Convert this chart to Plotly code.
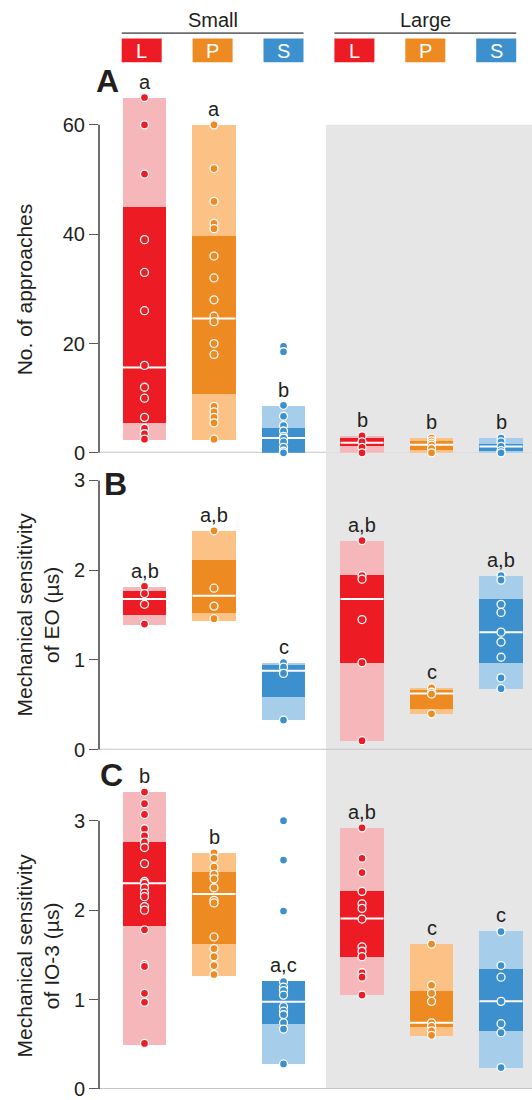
import plotly.graph_objects as go

# ---- categories -------------------------------------------------------------
size_groups = ["Small", "Large"]
species = ["L", "P", "S"]
dark_colors = ["#ED1C24", "#EE8A22", "#3D90CE"]
light_colors = ["#F6B7BA", "#FBC185", "#A6CDE9"]

# ---- panel A: number of approaches ------------------------------------------
approach_pts = [
    [65, 60, 51, 39, 33, 26, 16, 12, 10, 6.5, 4.5, 3.5, 2.5],
    [60, 52, 46, 42, 41, 36, 32, 28, 25, 24, 20, 18, 8.5, 7.5, 6.5, 5.5, 2.5],
    [19.5, 18.5, 8.7, 6.7, 5, 4, 3, 2.7, 2, 1, 0.3, 0],
    [3.1, 2, 1, 0],
    [2.7, 2.2, 1.8, 1.4, 0.8, 0],
    [2.7, 2.0, 1.2, 0.4, 0],
]
approach_lo = [2.4, 2.4, 0, 0, 0, 0]
approach_q1 = [5.4, 10.7, 0, 1.2, 0.6, 0.4]
approach_med = [15.6, 24.6, 2.7, 1.85, 1.5, 1.15]
approach_q3 = [45, 39.6, 4.5, 2.7, 2.2, 1.65]
approach_hi = [65, 60, 8.6, 3.1, 2.7, 2.7]
approach_sig = ["a", "a", "b", "b", "b", "b"]

# ---- panel B: mechanical sensitivity of EO (µs) -----------------------------
eo_pts = [
    [1.82, 1.74, 1.62, 1.40],
    [2.44, 1.80, 1.60, 1.46],
    [0.97, 0.92, 0.85, 0.33],
    [2.33, 1.94, 1.90, 1.45, 0.97, 0.10],
    [0.69, 0.64, 0.62, 0.40],
    [1.94, 1.89, 1.62, 1.53, 1.31, 1.20, 1.03, 0.80, 0.68],
]
eo_lo = [1.39, 1.44, 0.33, 0.10, 0.40, 0.675]
eo_q1 = [1.50, 1.52, 0.585, 0.967, 0.456, 0.967]
eo_med = [1.68, 1.715, 0.88, 1.68, 0.627, 1.31]
eo_q3 = [1.77, 2.12, 0.94, 1.944, 0.67, 1.686]
eo_hi = [1.816, 2.44, 0.97, 2.33, 0.686, 1.94]
eo_sig = ["a,b", "a,b", "c", "a,b", "c", "a,b"]

# ---- panel C: mechanical sensitivity of IO-3 (µs) ---------------------------
io_pts = [
    [3.32, 3.19, 3.07, 2.91, 2.83, 2.76, 2.70, 2.52, 2.32, 2.30, 2.25, 2.19,
     2.15, 2.04, 2.00, 1.78, 1.39, 1.37, 1.07, 0.97, 0.51],
    [2.64, 2.58, 2.48, 2.40, 2.35, 2.25, 2.11, 2.08, 1.70, 1.57, 1.48, 1.38, 1.28],
    [3.00, 2.56, 1.99, 1.20, 1.14, 1.10, 1.05, 0.92, 0.87, 0.83, 0.74, 0.67, 0.28],
    [2.92, 2.58, 2.42, 2.21, 2.07, 2.02, 1.90, 1.59, 1.54, 1.48, 1.30, 1.25, 1.05],
    [1.62, 1.16, 1.07, 0.98, 0.74, 0.70, 0.65, 0.60],
    [1.76, 1.38, 1.25, 0.98, 0.73, 0.63, 0.24],
]
io_lo = [0.50, 1.27, 0.28, 1.05, 0.60, 0.234]
io_q1 = [1.83, 1.625, 0.73, 1.476, 0.695, 0.65]
io_med = [2.30, 2.18, 0.975, 1.906, 0.74, 0.98]
io_q3 = [2.76, 2.435, 1.21, 2.22, 1.097, 1.35]
io_hi = [3.32, 2.64, 1.21, 2.92, 1.62, 1.766]
io_sig = ["b", "b", "a,c", "a,b", "c", "c"]

approach_ticks = [0, 20, 40, 60]
sens_ticks = [0, 1, 2, 3]

# ---- geometry -----------------------------------------------------------------
W, H = 532, 1100
ML, MR, MT, MB = 99, 0, 70, 8
PLOT_W = W - ML - MR
PLOT_H = H - MT - MB
GROUP_GAP = 3.13
BOX_W = 0.62
X_RANGE = [-0.6547, 5.5755]
SHADE_X0 = 2.612

TEXT = "#231F20"
FONT = "Liberation Sans, Arial, Helvetica, sans-serif"


def px_x(px):
    return (px - ML) / PLOT_W


def px_y(py):
    return (H - MB - py) / PLOT_H


xpos = [g * GROUP_GAP + i for g in range(len(size_groups)) for i in range(len(species))]
fill_dark = dark_colors * len(size_groups)
fill_light = light_colors * len(size_groups)

panels = [
    dict(axis="y", pts=approach_pts, lo=approach_lo, q1=approach_q1, med=approach_med,
         q3=approach_q3, hi=approach_hi, sig=approach_sig),
    dict(axis="y2", pts=eo_pts, lo=eo_lo, q1=eo_q1, med=eo_med,
         q3=eo_q3, hi=eo_hi, sig=eo_sig),
    dict(axis="y3", pts=io_pts, lo=io_lo, q1=io_q1, med=io_med,
         q3=io_q3, hi=io_hi, sig=io_sig),
]

fig = go.Figure()
annotations = []

for p in panels:
    ax = p["axis"]
    # outer (light) box
    fig.add_trace(go.Bar(
        x=xpos, y=[h - l for h, l in zip(p["hi"], p["lo"])], base=p["lo"],
        width=BOX_W, marker=dict(color=fill_light, line=dict(width=0)),
        xaxis="x", yaxis=ax, hoverinfo="skip", cliponaxis=False))
    # inner (dark) box
    fig.add_trace(go.Bar(
        x=xpos, y=[h - l for h, l in zip(p["q3"], p["q1"])], base=p["q1"],
        width=BOX_W, marker=dict(color=fill_dark, line=dict(width=0)),
        xaxis="x", yaxis=ax, hoverinfo="skip", cliponaxis=False))
    # median lines
    mx, my = [], []
    for x, m in zip(xpos, p["med"]):
        mx += [x - BOX_W / 2, x + BOX_W / 2, None]
        my += [m, m, None]
    fig.add_trace(go.Scatter(x=mx, y=my, mode="lines",
                             line=dict(color="white", width=2),
                             xaxis="x", yaxis=ax, hoverinfo="skip", cliponaxis=False))
    # individual observations
    for k, vals in enumerate(p["pts"]):
        fig.add_trace(go.Scatter(
            x=[xpos[k]] * len(vals), y=vals, mode="markers",
            marker=dict(size=8, color=fill_dark[k], line=dict(color="white", width=1.3)),
            xaxis="x", yaxis=ax, cliponaxis=False, hoverinfo="y"))
    # significance letters
    for k, s in enumerate(p["sig"]):
        annotations.append(dict(
            x=xpos[k], y=p["hi"][k], xref="x", yref=ax, text=s, showarrow=False,
            yanchor="bottom", yshift=3, font=dict(size=20, color=TEXT, family=FONT)))

# ---- axes ---------------------------------------------------------------------
ytick_style = dict(showgrid=False, zeroline=False, showline=False, ticks="outside",
                   ticklen=9, tickwidth=1.2, tickcolor="#58595B",
                   tickfont=dict(size=20, color=TEXT, family=FONT), anchor="x")

fig.update_layout(
    width=W, height=H, margin=dict(l=ML, r=MR, t=MT, b=MB),
    paper_bgcolor="white", plot_bgcolor="rgba(0,0,0,0)",
    barmode="overlay", showlegend=False, bargap=0,
    xaxis=dict(range=X_RANGE, visible=False, anchor="y3", fixedrange=True),
    yaxis=dict(domain=[px_y(454), 1], range=[0, (454 - MT) / ((454 - 125) / 60)],
               tickvals=approach_ticks, **ytick_style),
    yaxis2=dict(domain=[px_y(751.7), px_y(454)], range=[0, (751.7 - 454) / 90],
                tickvals=sens_ticks, **ytick_style),
    yaxis3=dict(domain=[0, px_y(751.7)], range=[0, (H - MB - 751.7) / 89.7],
                tickvals=sens_ticks, **ytick_style),
)

shapes = [
    # shaded "Large" region
    dict(type="rect", xref="x", yref="y", x0=SHADE_X0, x1=X_RANGE[1], y0=0, y1=60,
         fillcolor="#E6E6E7", line=dict(width=0), layer="below"),
    dict(type="rect", xref="x", yref="y2 domain", x0=SHADE_X0, x1=X_RANGE[1], y0=0, y1=1,
         fillcolor="#E6E6E7", line=dict(width=0), layer="below"),
    dict(type="rect", xref="x", yref="y3 domain", x0=SHADE_X0, x1=X_RANGE[1], y0=0, y1=1,
         fillcolor="#E6E6E7", line=dict(width=0), layer="below"),
]
for ax, top in [("y", 60), ("y2", 3), ("y3", 3)]:
    shapes.append(dict(type="line", xref="paper", yref=ax, x0=0, x1=1, y0=0, y1=0,
                       line=dict(color="#C4C4C4", width=2), layer="below"))
    shapes.append(dict(type="line", xref="paper", yref=ax, x0=0, x1=0, y0=0, y1=top,
                       line=dict(color=TEXT, width=1.3)))

# ---- header: group brackets and species keys ---------------------------------
header_step = 70.9
header_x0 = 141.7
key_w = 40
for g, name in enumerate(size_groups):
    left = header_x0 + g * 3 * header_step - key_w / 2
    right = header_x0 + (g * 3 + 2) * header_step + key_w / 2
    shapes.append(dict(type="line", xref="paper", yref="paper",
                       x0=px_x(left), x1=px_x(right), y0=px_y(33), y1=px_y(33),
                       line=dict(color="#6D6E71", width=1.6)))
    annotations.append(dict(x=px_x((left + right) / 2), y=px_y(20), xref="paper", yref="paper",
                            text=name, showarrow=False, xanchor="center", yanchor="middle",
                            font=dict(size=20, color=TEXT, family=FONT)))
    for i, sp in enumerate(species):
        cx = header_x0 + (g * 3 + i) * header_step
        shapes.append(dict(type="rect", xref="paper", yref="paper",
                           x0=px_x(cx - key_w / 2), x1=px_x(cx + key_w / 2),
                           y0=px_y(62.3), y1=px_y(38.3),
                           fillcolor=dark_colors[i], line=dict(width=0)))
        annotations.append(dict(x=px_x(cx), y=px_y(50.5), xref="paper", yref="paper",
                                text=sp, showarrow=False, xanchor="center", yanchor="middle",
                                font=dict(size=20, color="white", family=FONT)))

# ---- panel letters and axis titles -------------------------------------------
for letter, cx, cy in [("A", 107, 81), ("B", 115, 485), ("C", 111.5, 777.5)]:
    annotations.append(dict(x=px_x(cx), y=px_y(cy), xref="paper", yref="paper",
                            text=f"<b>{letter}</b>", showarrow=False,
                            xanchor="center", yanchor="middle",
                            font=dict(size=32, color=TEXT, family=FONT)))

titles = [
    ("No. of approaches", 24, 290),
    ("Mechanical sensitivity<br>of EO (µs)", 38, 616),
    ("Mechanical sensitivity<br>of IO-3 (µs)", 38, 958),
]
for text, cx, cy in titles:
    annotations.append(dict(x=px_x(cx), y=px_y(cy), xref="paper", yref="paper",
                            text=text, showarrow=False, textangle=-90,
                            xanchor="center", yanchor="middle",
                            font=dict(size=21, color=TEXT, family=FONT)))

fig.update_layout(shapes=shapes, annotations=annotations)
fig.write_html("out.html")
